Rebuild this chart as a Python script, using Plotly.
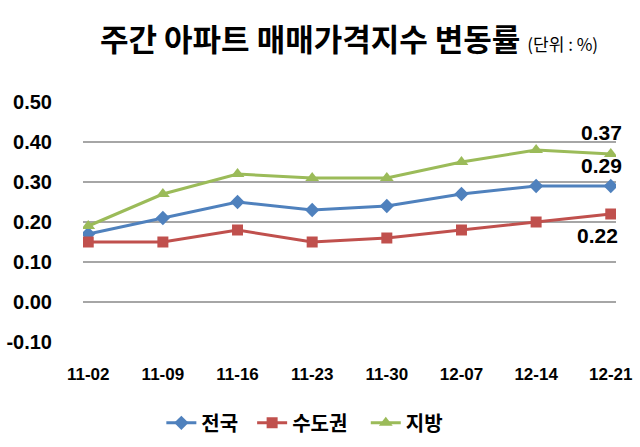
import plotly.graph_objects as go

dates = ["11-02", "11-09", "11-16", "11-23", "11-30", "12-07", "12-14", "12-21"]
nation = [0.17, 0.21, 0.25, 0.23, 0.24, 0.27, 0.29, 0.29]
capital = [0.15, 0.15, 0.18, 0.15, 0.16, 0.18, 0.20, 0.22]
regional = [0.19, 0.27, 0.32, 0.31, 0.31, 0.35, 0.38, 0.37]
y_ticks = [-0.10, 0.00, 0.10, 0.20, 0.30, 0.40, 0.50]

KR = "Noto Sans CJK KR"
NB = "\u00a0"
fig = go.Figure()
series = [
    ("<b>전국</b>" + NB * 2, nation, "#4F81BD", "diamond", 11),
    ("<b>수도권</b>" + NB * 3, capital, "#C0504D", "square", 11),
    ("<b>지방</b>", regional, "#9BBB59", "triangle-up", 12),
]
for name, vals, col, sym, sz in series:
    fig.add_trace(go.Scatter(
        x=list(range(len(dates))), y=vals, name=name, mode="lines+markers",
        line=dict(color=col, width=3), marker=dict(symbol=sym, size=sz, color=col),
    ))

# end labels
lab_font = dict(size=21, color="black", family="Liberation Sans")
fig.add_annotation(x=7, y=regional[-1], text=f"<b>{regional[-1]:.2f}</b>", showarrow=False,
                   xanchor="right", yshift=22, xshift=13, font=lab_font)
fig.add_annotation(x=7, y=nation[-1], text=f"<b>{nation[-1]:.2f}</b>", showarrow=False,
                   xanchor="right", yshift=21, xshift=13, font=lab_font)
fig.add_annotation(x=7, y=capital[-1], text=f"<b>{capital[-1]:.2f}</b>", showarrow=False,
                   xanchor="right", yshift=-21, xshift=9, font=lab_font)

fig.add_annotation(
    xref="paper", yref="paper", x=(98 - 83) / 533, y=1, xanchor="left", yanchor="bottom", yshift=40,
    text="<b>주간 아파트 매매가격지수 변동률</b> <span style='font-size:17px'>(단위 : %)</span>",
    showarrow=False, font=dict(size=31, family=KR, color="black"))

fig.update_layout(
    width=640, height=447, plot_bgcolor="white", paper_bgcolor="white",
    margin=dict(l=83, r=24, t=102, b=105, autoexpand=False),
    showlegend=True,
    legend=dict(orientation="h", x=0.147, xanchor="left", yref="container", y=0.054, yanchor="middle",
                font=dict(family=KR, size=20, color="black"), itemwidth=30,
                tracegroupgap=0),
    font=dict(family="Liberation Sans", color="black"),
)
fig.update_xaxes(
    tickmode="array", tickvals=list(range(len(dates))), ticktext=[f"<b>{d}</b>" for d in dates],
    range=[-0.07, 7.07], showgrid=False, zeroline=False, showline=False, automargin=False,
    tickfont=dict(size=17, family="Liberation Sans"), ticks="outside", ticklen=17, tickcolor="rgba(0,0,0,0)",
)
fig.update_yaxes(
    range=[-0.1, 0.5], tickvals=y_ticks, ticktext=[f"<b>{v:.2f}</b>" for v in y_ticks],
    showgrid=True, gridcolor="#A6A6A6", gridwidth=1.5, zeroline=False, showline=False, automargin=False,
    tickfont=dict(size=20, family="Liberation Sans"), ticks="outside", ticklen=26, tickcolor="rgba(0,0,0,0)",
)
fig.write_html("out.html")
